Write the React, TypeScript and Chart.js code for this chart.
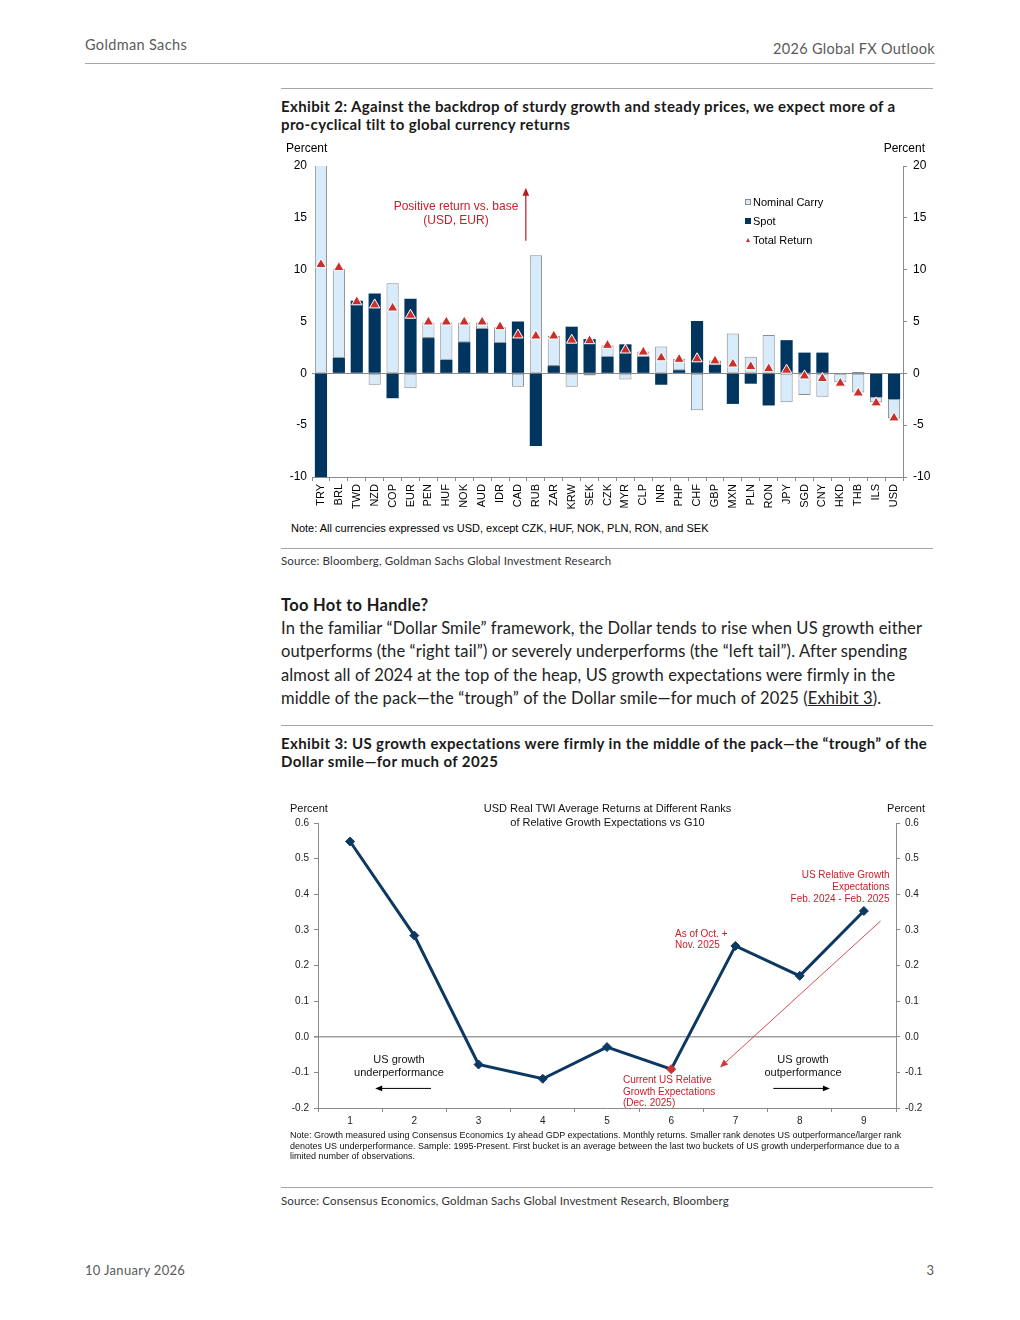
import React, { useEffect, useRef } from "react";
import { Chart, registerables } from "chart.js";

Chart.register(...registerables);

// ---------- Exhibit 2 data ----------
const currencies = [
  "TRY", "BRL", "TWD", "NZD", "COP", "EUR", "PEN", "HUF", "NOK", "AUD", "IDR",
  "CAD", "RUB", "ZAR", "KRW", "SEK", "CZK", "MYR", "CLP", "INR", "PHP", "CHF",
  "GBP", "MXN", "PLN", "RON", "JPY", "SGD", "CNY", "HKD", "THB", "ILS", "USD",
];
const spotReturn = [
  -19.5, 1.5, 7.0, 7.7, -2.4, 7.2, 3.4, 1.3, 3.0, 4.3, 2.95,
  5.0, -7.0, 0.7, 4.5, 3.3, 1.6, 2.8, 1.6, -1.1, 0.3, 5.05,
  0.8, -2.95, -1.0, -3.1, 3.2, 2.0, 2.0, -0.05, 0.1, -2.3, -2.5,
];
const nominalCarry = [
  30.0, 8.6, -0.1, -1.1, 8.7, -1.45, 1.5, 3.6, 1.9, 0.6, 1.5,
  -1.3, 11.4, 2.9, -1.3, -0.2, 1.1, -0.6, 0.5, 2.6, 1.1, -3.55,
  0.45, 3.85, 1.6, 3.7, -2.8, -2.1, -2.25, -0.8, -1.85, -0.5, -1.85,
];
const totalReturn = [
  10.5, 10.2, 6.9, 6.6, 6.3, 5.6, 4.95, 4.95, 4.95, 4.95, 4.5,
  3.7, 3.6, 3.6, 3.2, 3.15, 2.7, 2.25, 2.05, 1.5, 1.35, 1.4,
  1.2, 0.9, 0.65, 0.45, 0.3, -0.25, -0.5, -0.95, -1.9, -2.85, -4.3,
];
const ex2AxisMin = -10;
const ex2AxisMax = 20;
const ex2AxisStep = 5;

// ---------- Exhibit 3 data ----------
const growthRanks = ["1", "2", "3", "4", "5", "6", "7", "8", "9"];
const usdTwiReturns = [0.548, 0.284, -0.078, -0.118, -0.029, -0.091, 0.255, 0.171, 0.353];
const currentRankIndex = 5;
const ex3AxisMin = -0.2;
const ex3AxisMax = 0.6;
const ex3AxisStep = 0.1;

// ---------- styles ----------
const NAVY = "#00355f";
const LINE_NAVY = "#0c3862";
const LIGHT = "#d7ebfa";
const BAR_EDGE = "#8c8c8c";
const AXIS = "#8a8a8a";
const RED = "#c9302c";
const RED_TEXT = "#c8202a";
const CHART_FONT = "'Liberation Sans', Arial, sans-serif";
const PAGE_FONT = "Lato, 'Noto Sans', sans-serif";

function drawArrow(
  ctx: CanvasRenderingContext2D,
  x1: number, y1: number, x2: number, y2: number,
  color: string, width: number, head: number
) {
  const ang = Math.atan2(y2 - y1, x2 - x1);
  ctx.save();
  ctx.strokeStyle = color;
  ctx.fillStyle = color;
  ctx.lineWidth = width;
  ctx.beginPath();
  ctx.moveTo(x1, y1);
  ctx.lineTo(x2 - Math.cos(ang) * head * 0.8, y2 - Math.sin(ang) * head * 0.8);
  ctx.stroke();
  ctx.beginPath();
  ctx.moveTo(x2, y2);
  ctx.lineTo(x2 - head * Math.cos(ang) + (head / 2.4) * Math.sin(ang), y2 - head * Math.sin(ang) - (head / 2.4) * Math.cos(ang));
  ctx.lineTo(x2 - head * Math.cos(ang) - (head / 2.4) * Math.sin(ang), y2 - head * Math.sin(ang) + (head / 2.4) * Math.cos(ang));
  ctx.closePath();
  ctx.fill();
  ctx.restore();
}

function Exhibit2Chart() {
  const ref = useRef<HTMLCanvasElement>(null);
  useEffect(() => {
    const arrowPlugin = {
      id: "ex2Arrow",
      afterDatasetsDraw(chart: any) {
        const { ctx, scales } = chart;
        const x = scales.x, y = scales.y;
        const a = x.getPixelForValue(11), b = x.getPixelForValue(12);
        const ax = a + 0.44 * (b - a);
        drawArrow(ctx, ax, y.getPixelForValue(12.8), ax, y.getPixelForValue(17.9), "#b51c22", 1.2, 8);
      },
    };
    const chart = new Chart(ref.current as HTMLCanvasElement, {
      type: "bar",
      data: {
        labels: currencies,
        datasets: [
          {
            type: "line",
            label: "Total Return",
            data: totalReturn,
            showLine: false,
            pointStyle: "triangle",
            pointRadius: 6,
            pointHoverRadius: 6,
            pointBackgroundColor: RED,
            pointBorderColor: "#ffffff",
            pointBorderWidth: 1,
            stack: "total",
            order: 0,
          } as any,
          {
            label: "Spot",
            data: spotReturn,
            backgroundColor: NAVY,
            borderWidth: 0,
            stack: "ret",
            order: 1,
            barPercentage: 0.68,
            categoryPercentage: 1,
          },
          {
            label: "Nominal Carry",
            data: nominalCarry,
            backgroundColor: LIGHT,
            borderColor: BAR_EDGE,
            borderWidth: 1,
            borderSkipped: false,
            stack: "ret",
            order: 1,
            barPercentage: 0.68,
            categoryPercentage: 1,
          },
        ],
      },
      options: {
        responsive: false,
        animation: false,
        events: [],
        layout: { padding: { top: 26, left: 0, right: 0, bottom: 0 } },
        plugins: { legend: { display: false }, tooltip: { enabled: false } },
        scales: {
          x: {
            stacked: true,
            offset: true,
            grid: { display: true, offset: true, drawOnChartArea: false, drawTicks: true, tickLength: 4, color: AXIS },
            border: { display: true, color: AXIS },
            ticks: {
              autoSkip: false,
              maxRotation: 90,
              minRotation: 90,
              padding: 3,
              color: "#000",
              font: { family: CHART_FONT, size: 11 },
            },
            afterFit: (s: any) => { s.height = 43; },
          },
          y: {
            stacked: true,
            min: ex2AxisMin,
            max: ex2AxisMax,
            ticks: { stepSize: ex2AxisStep, padding: 5, color: "#000", font: { family: CHART_FONT, size: 12 } },
            grid: {
              drawTicks: false,
              color: (c: any) => (c.tick && c.tick.value === 0 ? AXIS : "rgba(0,0,0,0)"),
              lineWidth: 1,
            },
            border: { display: false },
            afterFit: (s: any) => { s.width = 32; },
          },
          y2: {
            position: "right",
            min: ex2AxisMin,
            max: ex2AxisMax,
            ticks: { stepSize: ex2AxisStep, padding: 6, color: "#000", font: { family: CHART_FONT, size: 12 } },
            grid: { drawOnChartArea: false, drawTicks: true, tickLength: 4, color: AXIS },
            border: { display: true, color: AXIS },
            afterFit: (s: any) => { s.width = 37; },
          },
        },
      } as any,
      plugins: [arrowPlugin],
    });
    return () => chart.destroy();
  }, []);
  return <canvas ref={ref} width={660} height={380} style={{ position: "absolute", left: 280, top: 140, width: 660, height: 380 }} />;
}

function Exhibit3Chart() {
  const ref = useRef<HTMLCanvasElement>(null);
  useEffect(() => {
    const annotationPlugin = {
      id: "ex3Arrows",
      afterDatasetsDraw(chart: any) {
        const { ctx, scales } = chart;
        const x = scales.x, y = scales.y;
        const p0 = x.getPixelForValue(0), p1 = x.getPixelForValue(1);
        const px = (i: number) => p0 + i * (p1 - p0);
        drawArrow(ctx, px(8.26), y.getPixelForValue(0.325), px(5.76), y.getPixelForValue(-0.086), "#d2393c", 0.9, 8);
        drawArrow(ctx, px(1.26), y.getPixelForValue(-0.145), px(0.39), y.getPixelForValue(-0.145), "#000", 1, 7);
        drawArrow(ctx, px(6.59), y.getPixelForValue(-0.145), px(7.47), y.getPixelForValue(-0.145), "#000", 1, 7);
      },
    };
    const isZero = (v: number) => Math.abs(v) < 1e-9;
    const tickFmt = (v: any) => (isZero(Number(v)) ? "0.0" : Number(v).toFixed(1));
    const chart = new Chart(ref.current as HTMLCanvasElement, {
      type: "line",
      data: {
        labels: growthRanks,
        datasets: [
          {
            data: usdTwiReturns,
            borderColor: LINE_NAVY,
            borderWidth: 3,
            tension: 0,
            pointStyle: "rectRot",
            pointRadius: 4.5,
            pointHoverRadius: 4.5,
            pointBackgroundColor: usdTwiReturns.map((_, i) => (i === currentRankIndex ? "#cc3333" : LINE_NAVY)),
            pointBorderColor: usdTwiReturns.map((_, i) => (i === currentRankIndex ? "#cc3333" : LINE_NAVY)),
            pointBorderWidth: 1,
          },
        ],
      },
      options: {
        responsive: false,
        animation: false,
        events: [],
        layout: { padding: { top: 28, left: 0, right: 0, bottom: 0 } },
        plugins: { legend: { display: false }, tooltip: { enabled: false } },
        scales: {
          x: {
            offset: true,
            grid: { offset: true, drawOnChartArea: false, drawTicks: true, tickLength: 4, color: AXIS },
            border: { display: true, color: AXIS },
            ticks: { padding: 3, color: "#222", font: { family: CHART_FONT, size: 10 } },
            afterFit: (s: any) => { s.height = 22; },
          },
          y: {
            min: ex3AxisMin,
            max: ex3AxisMax,
            ticks: { stepSize: ex3AxisStep, padding: 5, color: "#222", font: { family: CHART_FONT, size: 10 }, callback: tickFmt },
            grid: {
              drawTicks: true,
              tickLength: 4,
              tickColor: AXIS,
              color: (c: any) => (c.tick && isZero(c.tick.value) ? "#a0a0a0" : "rgba(0,0,0,0)"),
              lineWidth: (c: any) => (c.tick && isZero(c.tick.value) ? 1.6 : 1),
            },
            border: { display: true, color: AXIS },
            afterFit: (s: any) => { s.width = 38; },
          },
          y2: {
            position: "right",
            min: ex3AxisMin,
            max: ex3AxisMax,
            ticks: { stepSize: ex3AxisStep, padding: 5, color: "#222", font: { family: CHART_FONT, size: 10 }, callback: tickFmt },
            grid: { drawOnChartArea: false, drawTicks: true, tickLength: 4, color: AXIS },
            border: { display: true, color: AXIS },
            afterFit: (s: any) => { s.width = 44; },
          },
        },
      } as any,
      plugins: [annotationPlugin],
    });
    return () => chart.destroy();
  }, []);
  return <canvas ref={ref} width={660} height={335} style={{ position: "absolute", left: 280, top: 795, width: 660, height: 335 }} />;
}

type TProps = {
  x: number;
  y: number;
  size: number;
  children: React.ReactNode;
  align?: "left" | "right" | "center";
  color?: string;
  weight?: number;
  family?: string;
  lh?: number;
  ls?: number;
  style?: React.CSSProperties;
};

function T({ x, y, size, children, align = "left", color = "#000", weight = 400, family = PAGE_FONT, lh, ls, style }: TProps) {
  const L = lh ?? Math.round(size * 1.3);
  const s: React.CSSProperties = {
    position: "absolute",
    top: y - L / 2,
    lineHeight: `${L}px`,
    height: L,
    fontSize: size,
    fontWeight: weight,
    fontFamily: family,
    color,
    whiteSpace: "nowrap",
    letterSpacing: ls ? `${ls}px` : undefined,
    ...style,
  };
  if (align === "left") s.left = x;
  else if (align === "right") s.right = 1020 - x;
  else { s.left = x; s.transform = "translateX(-50%)"; }
  return <div style={s}>{children}</div>;
}

function Rule({ x, y, w }: { x: number; y: number; w: number }) {
  return <div style={{ position: "absolute", left: x, top: y, width: w, height: 1, background: "#a6a6a6" }} />;
}

export default function App() {
  const chartText = { family: CHART_FONT };
  return (
    <div style={{ position: "absolute", left: 0, top: 0, width: 1020, height: 1320, background: "#fff", overflow: "hidden" }}>
      {/* header */}
      <T x={85} y={44} size={14.5} ls={0.35} color="#5a5a5a">Goldman Sachs</T>
      <T x={935} y={48} size={14.5} ls={0.3} color="#5a5a5a" align="right">2026 Global FX Outlook</T>
      <Rule x={85} y={63} w={850} />

      {/* Exhibit 2 */}
      <Rule x={281} y={88} w={652} />
      <T x={281} y={106} size={15} ls={0.36} weight={700} color="#1a1a1a">Exhibit 2: Against the backdrop of sturdy growth and steady prices, we expect more of a</T>
      <T x={281} y={124} size={15} ls={0.36} weight={700} color="#1a1a1a">pro-cyclical tilt to global currency returns</T>

      <Exhibit2Chart />
      <T x={286} y={148} size={12} {...chartText}>Percent</T>
      <T x={925} y={148} size={12} align="right" {...chartText}>Percent</T>
      <T x={456} y={206} size={12} align="center" color={RED_TEXT} {...chartText}>Positive return vs. base</T>
      <T x={456} y={220} size={12} align="center" color={RED_TEXT} {...chartText}>(USD, EUR)</T>

      {/* legend */}
      <div style={{ position: "absolute", left: 745, top: 199, width: 4, height: 4, background: LIGHT, border: `1px solid ${BAR_EDGE}` }} />
      <T x={753} y={202} size={11} {...chartText}>Nominal Carry</T>
      <div style={{ position: "absolute", left: 745, top: 218, width: 6, height: 6, background: NAVY }} />
      <T x={753} y={221} size={11} {...chartText}>Spot</T>
      <div style={{ position: "absolute", left: 745.5, top: 238, width: 0, height: 0, borderLeft: "2px solid transparent", borderRight: "2px solid transparent", borderBottom: `4px solid ${RED}` }} />
      <T x={753} y={240} size={11} {...chartText}>Total Return</T>

      <T x={291} y={528} size={11} {...chartText}>Note: All currencies expressed vs USD, except CZK, HUF, NOK, PLN, RON, and SEK</T>
      <Rule x={281} y={548} w={652} />
      <T x={281} y={560} size={11.5} ls={0.15} color="#333">Source: Bloomberg, Goldman Sachs Global Investment Research</T>

      {/* body text */}
      <T x={281} y={605} size={16.5} ls={0.3} weight={700} color="#1a1a1a">Too Hot to Handle?</T>
      <T x={281} y={628} size={16.5} ls={0.13} color="#222">In the familiar “Dollar Smile” framework, the Dollar tends to rise when US growth either</T>
      <T x={281} y={651} size={16.5} ls={0.13} color="#222">outperforms (the “right tail”) or severely underperforms (the “left tail”). After spending</T>
      <T x={281} y={675} size={16.5} ls={0.13} color="#222">almost all of 2024 at the top of the heap, US growth expectations were firmly in the</T>
      <T x={281} y={698} size={16.5} ls={0.13} color="#222">
        middle of the pack—the “trough” of the Dollar smile—for much of 2025 (<span style={{ textDecoration: "underline" }}>Exhibit 3</span>).
      </T>

      {/* Exhibit 3 */}
      <Rule x={281} y={725} w={652} />
      <T x={281} y={743} size={15} ls={0.4} weight={700} color="#1a1a1a">Exhibit 3: US growth expectations were firmly in the middle of the pack—the “trough” of the</T>
      <T x={281} y={761} size={15} ls={0.4} weight={700} color="#1a1a1a">Dollar smile—for much of 2025</T>

      <Exhibit3Chart />
      <T x={290} y={808} size={11} color="#111" {...chartText}>Percent</T>
      <T x={925} y={808} size={11} color="#111" align="right" {...chartText}>Percent</T>
      <T x={607.5} y={808} size={11} color="#111" align="center" {...chartText}>USD Real TWI Average Returns at Different Ranks</T>
      <T x={607.5} y={821.5} size={11} color="#111" align="center" {...chartText}>of Relative Growth Expectations vs G10</T>

      <T x={889.5} y={874.3} size={10} color={RED_TEXT} align="right" {...chartText}>US Relative Growth</T>
      <T x={889.5} y={886.5} size={10} color={RED_TEXT} align="right" {...chartText}>Expectations</T>
      <T x={889.5} y={898.7} size={10} color={RED_TEXT} align="right" {...chartText}>Feb. 2024 - Feb. 2025</T>

      <T x={675} y={933.3} size={10} color={RED_TEXT} {...chartText}>As of Oct. +</T>
      <T x={675} y={944.3} size={10} color={RED_TEXT} {...chartText}>Nov. 2025</T>

      <T x={623} y={1079.3} size={10} color={RED_TEXT} {...chartText}>Current US Relative</T>
      <T x={623} y={1091} size={10} color={RED_TEXT} {...chartText}>Growth Expectations</T>
      <T x={623} y={1102.7} size={10} color={RED_TEXT} {...chartText}>(Dec. 2025)</T>

      <T x={399} y={1059.3} size={11} align="center" color="#111" {...chartText}>US growth</T>
      <T x={399} y={1072} size={11} align="center" color="#111" {...chartText}>underperformance</T>
      <T x={803} y={1059.3} size={11} align="center" color="#111" {...chartText}>US growth</T>
      <T x={803} y={1072} size={11} align="center" color="#111" {...chartText}>outperformance</T>

      <T x={290} y={1135} size={9} color="#111" {...chartText}>Note: Growth measured using Consensus Economics 1y ahead GDP expectations. Monthly returns. Smaller rank denotes US outperformance/larger rank</T>
      <T x={290} y={1145.5} size={9} color="#111" {...chartText}>denotes US underperformance. Sample: 1995-Present. First bucket is an average between the last two buckets of US growth underperformance due to a</T>
      <T x={290} y={1156} size={9} color="#111" {...chartText}>limited number of observations.</T>

      <Rule x={281} y={1187} w={652} />
      <T x={281} y={1200} size={11.5} ls={0.12} color="#333">Source: Consensus Economics, Goldman Sachs Global Investment Research, Bloomberg</T>

      {/* footer */}
      <T x={85} y={1270} size={13} ls={0.33} color="#5a5a5a">10 January 2026</T>
      <T x={934} y={1270} size={13} color="#5a5a5a" align="right">3</T>
    </div>
  );
}
